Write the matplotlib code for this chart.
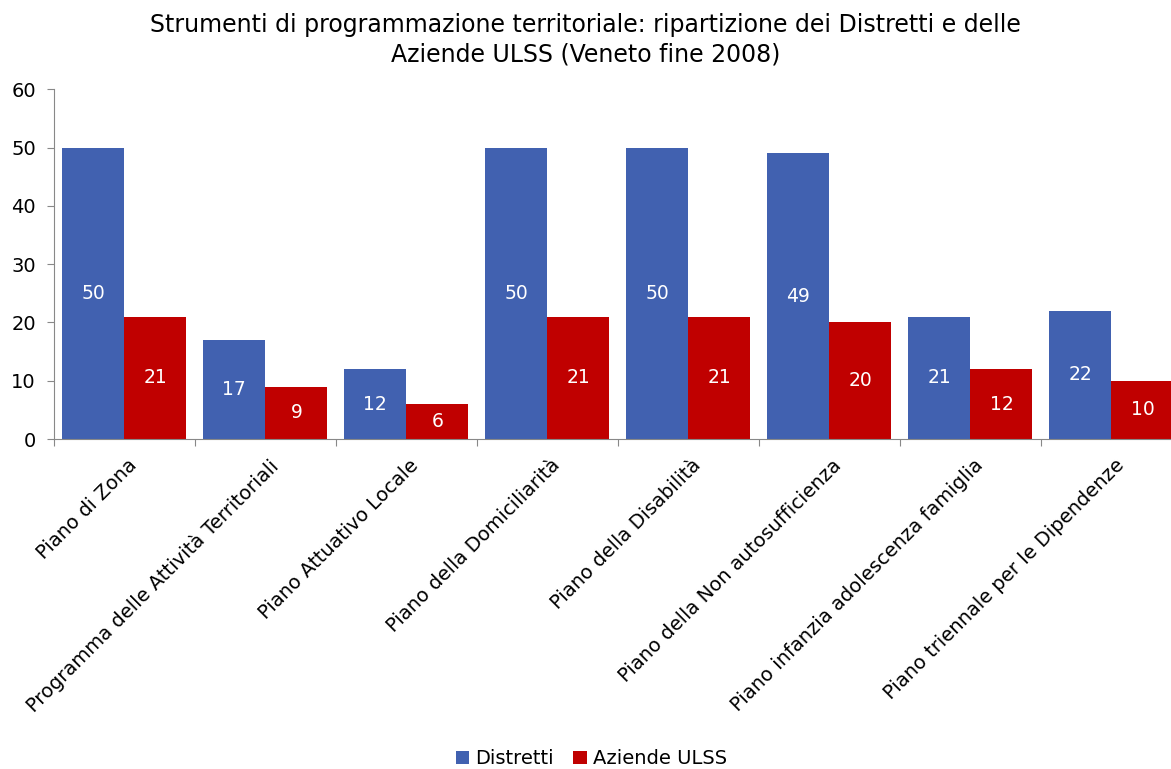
import numpy as np
import matplotlib.pyplot as plt

categorie = [
    "Piano di Zona",
    "Programma delle Attività Territoriali",
    "Piano Attuativo Locale",
    "Piano della Domiciliarità",
    "Piano della Disabilità",
    "Piano della Non autosufficienza",
    "Piano infanzia adolescenza famiglia",
    "Piano triennale per le Dipendenze",
]
distretti = [50, 17, 12, 50, 50, 49, 21, 22]
aziende = [21, 9, 6, 21, 21, 20, 12, 10]

blu = "#4161B0"
rosso = "#C00000"

fig = plt.figure(figsize=(11.71, 7.69), dpi=100)
ax = fig.add_axes([0.046, 0.429, 0.9633, 0.455])

x = np.arange(len(categorie))
w = 0.44
b1 = ax.bar(x - w/2, distretti, w, color=blu, label="Distretti")
b2 = ax.bar(x + w/2, aziende, w, color=rosso, label="Aziende ULSS")

for bars, vals in ((b1, distretti), (b2, aziende)):
    for r, v in zip(bars, vals):
        ax.text(r.get_x() + r.get_width()/2, v/2, str(v), color="white",
                ha="center", va="center", fontsize=13.5)

ax.set_xlim(-0.5, len(categorie) - 0.5)
ax.set_ylim(0, 60)
ax.set_yticks(range(0, 61, 10))
ax.tick_params(axis="y", labelsize=14, length=5, color="#888888", pad=8)

# tick marks at group boundaries, labels at group centers
ax.set_xticks(np.arange(len(categorie) + 1) - 0.5)
ax.set_xticklabels([])
ax.tick_params(axis="x", length=5, color="#888888")
ax.set_xticks(x + 0.02, minor=True)
ax.set_xticklabels(categorie, minor=True, rotation=45, ha="right",
                   rotation_mode="anchor", fontsize=14)
ax.tick_params(axis="x", which="minor", length=0, pad=12)

for s in ("top", "right"):
    ax.spines[s].set_visible(False)
for s in ("left", "bottom"):
    ax.spines[s].set_color("#888888")

fig.suptitle("Strumenti di programmazione territoriale: ripartizione dei Distretti e delle\n"
             "Aziende ULSS (Veneto fine 2008)", fontsize=17, y=0.983, linespacing=1.3)

fig.legend(loc="lower center", ncol=2, frameon=False, fontsize=14,
           handlelength=0.7, handleheight=0.7, handletextpad=0.3,
           columnspacing=1.0, bbox_to_anchor=(0.505, -0.022))

fig.savefig("out.png", dpi=100)
